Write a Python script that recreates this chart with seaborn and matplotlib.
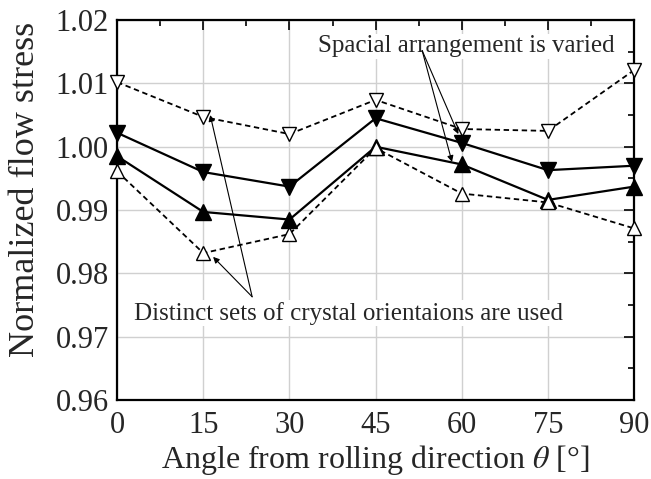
import numpy as np
import pandas as pd
import matplotlib
matplotlib.use("Agg")
import matplotlib.pyplot as plt
import seaborn as sns
from matplotlib.ticker import MultipleLocator

sns.set_style("white")
plt.rcParams["font.family"] = ["Liberation Serif", "DejaVu Serif"]
plt.rcParams["mathtext.fontset"] = "stix"

angles = [0, 15, 30, 45, 60, 75, 90]
open_down = [1.0102, 1.0047, 1.0020, 1.0074, 1.0028, 1.0025, 1.0121]
filled_down = [1.0022, 0.9960, 0.9937, 1.0045, 1.0006, 0.9963, 0.9970]
filled_up = [0.9985, 0.9897, 0.9885, 1.0000, 0.9972, 0.9916, 0.9937]
open_up = [0.9961, 0.9832, 0.9862, 0.9998, 0.9926, 0.9912, 0.9871]

series = [
    (open_down, "v", "white", (0, (3, 2)), 1.3, 10),
    (filled_down, "v", "black", "-", 1.6, 11),
    (filled_up, "^", "black", "-", 1.6, 11),
    (open_up, "^", "white", (0, (3, 2)), 1.3, 10),
]

fig = plt.figure(figsize=(6.51, 4.79), dpi=100)
ax = fig.add_axes([0.18, 0.165, 0.794, 0.793])

for vals, mk, fc, ls, lw, ms in series:
    df = pd.DataFrame({"angle": angles, "stress": vals})
    sns.lineplot(data=df, x="angle", y="stress", ax=ax, color="black",
                 linestyle=ls, linewidth=lw, marker=mk, markersize=ms,
                 markerfacecolor=fc, markeredgecolor="black",
                 markeredgewidth=1.0, zorder=3, clip_on=False)

ax.set_xlim(0, 90)
ax.set_ylim(0.96, 1.02)
ax.xaxis.set_major_locator(MultipleLocator(15))
ax.xaxis.set_minor_locator(MultipleLocator(7.5))
ax.yaxis.set_major_locator(MultipleLocator(0.01))
ax.yaxis.set_minor_locator(MultipleLocator(0.005))
ax.yaxis.set_major_formatter(matplotlib.ticker.FormatStrFormatter("%.2f"))
ax.grid(True, which="major", color="#d0d0d0", linewidth=1.0, zorder=0)
ax.set_axisbelow(True)
ax.tick_params(which="both", direction="in", top=True, right=True,
               labelsize=22, width=1.2, color="black")
ax.tick_params(which="major", length=7)
ax.tick_params(which="minor", length=4)
ax.tick_params(axis="x", pad=8)
ax.tick_params(axis="y", pad=6)
for sp in ax.spines.values():
    sp.set_linewidth(1.6)
    sp.set_color("black")

ax.set_xlabel(r"Angle from rolling direction $\mathit{\theta}$ [°]", fontsize=23, labelpad=2)
ax.set_ylabel("Normalized flow stress", fontsize=26)
ax.yaxis.set_label_coords(-0.145, 0.555)

bbox = dict(facecolor="white", edgecolor="none", pad=1)
arrow = dict(arrowstyle="-|>", color="black", lw=0.8, mutation_scale=9,
             shrinkA=0, shrinkB=0)

ax.text(60.8, 1.0159, "Spacial arrangement is varied", fontsize=18,
        ha="center", va="center", bbox=bbox, zorder=4)
ax.annotate("", xy=(59.4, 1.0020), xytext=(53.1, 1.0152), arrowprops=arrow, zorder=4)
ax.annotate("", xy=(58.3, 0.9976), xytext=(53.1, 1.0152), arrowprops=arrow, zorder=4)

ax.text(40.2, 0.9737, "Distinct sets of crystal orientaions are used", fontsize=18,
        ha="center", va="center", bbox=bbox, zorder=4)
ax.annotate("", xy=(16.2, 1.0050), xytext=(23.5, 0.9763), arrowprops=arrow, zorder=4)
ax.annotate("", xy=(16.7, 0.9826), xytext=(23.5, 0.9763), arrowprops=arrow, zorder=4)

fig.savefig("out.png", dpi=100)
